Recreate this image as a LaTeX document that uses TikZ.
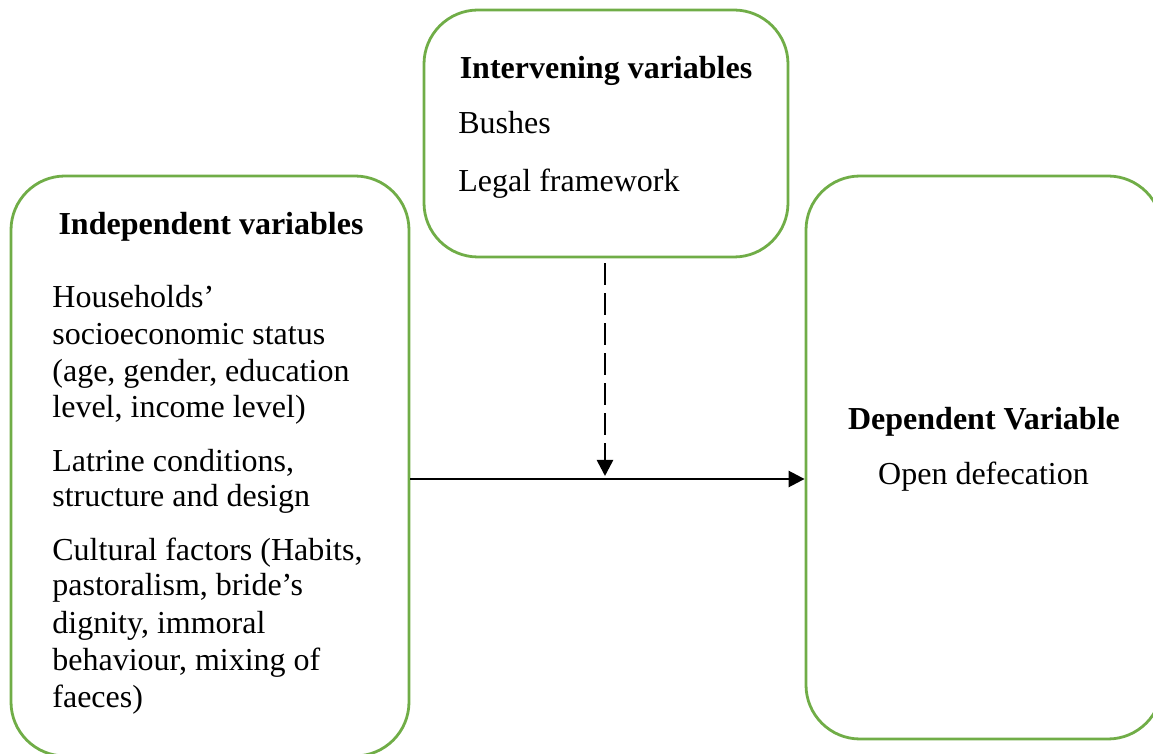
\documentclass[tikz,border=0pt]{standalone}
\usepackage{fontspec}
\setmainfont{Liberation Serif}
\usetikzlibrary{arrows.meta}
\definecolor{boxgreen}{HTML}{70AD47}
\begin{document}
\begin{tikzpicture}[x=0.5pt,y=-0.5pt,
  varbox/.style={draw=boxgreen, line width=1.4pt, rounded corners=27pt, inner sep=0pt, fill=white},
  txt/.style={anchor=base west, inner sep=0pt, font=\fontsize{16}{18.4}\selectfont},
  head/.style={anchor=base, inner sep=0pt, font=\fontsize{16}{18.4}\selectfont\bfseries},
  link/.style={line width=1.3pt, -{Triangle[width=8pt,length=8pt]}}
]
\useasboundingbox (0,0) rectangle (1153,754);
\begin{scope}
\clip (0,0) rectangle (1153,754);
\node[varbox, minimum width=199pt, minimum height=290pt] (indep) at (210,466) {};
\node[varbox, minimum width=182pt, minimum height=123.5pt] (interv) at (606,133.5) {};
\node[varbox, minimum width=178pt, minimum height=281.5pt] (dep) at (984,457.5) {};
\end{scope}

% Intervening
\node[head] (ivh) at (606,79) {Intervening variables};
\node[txt] (iv1) at (458,134) {Bushes};
\node[txt] (iv2) at (458,192) {Legal framework};

% Independent
\node[head] (idh) at (211,235) {Independent variables};
\node[txt] (l1) at (52,308) {Households’};
\node[txt] (l2) at (52,345) {socioeconomic status};
\node[txt] (l3) at (52,382) {(age, gender, education};
\node[txt] (l4) at (52,418) {level, income level)};
\node[txt] (l5) at (52,472) {Latrine conditions,};
\node[txt] (l6) at (52,507) {structure and design};
\node[txt] (l7) at (52,560) {Cultural factors (Habits,};
\node[txt] (l8) at (52,596) {pastoralism, bride’s};
\node[txt] (l9) at (52,633) {dignity, immoral};
\node[txt] (l10) at (52,670) {behaviour, mixing of};
\node[txt] (l11) at (52,707) {faeces)};

% Dependent
\node[head] (dph) at (984,430) {Dependent Variable};
\node[head, font=\fontsize{16}{18.4}\selectfont] (dp1) at (983.5,485) {Open defecation};

% Connectors
\coordinate (h) at (0,479);
\coordinate (m) at (605,476);
\draw[link] (indep.east |- h) -- (dep.west |- h);
\draw[link, dash pattern=on 11pt off 4pt] ([yshift=-2.5pt]interv.south -| m) -- (m);
\end{tikzpicture}
\end{document}
